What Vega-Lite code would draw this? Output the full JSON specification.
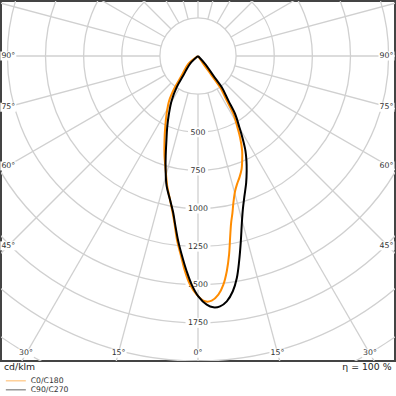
{
  "$schema": "https://vega.github.io/schema/vega-lite/v6.json",
  "width": 394,
  "height": 360,
  "autosize": {"type": "none"},
  "padding": {"left": 1, "top": 1, "right": 1, "bottom": 35},
  "background": "white",
  "config": {
    "font": "DejaVu Sans",
    "view": {"stroke": "#444444", "strokeWidth": 2},
    "axis": {"disable": true}
  },
  "datasets": {
    "spokes": [
      {"angle": 0, "x": 0, "y": 250, "x2": 0, "y2": 3000},
      {"angle": 15, "x": 64.7, "y": 241.5, "x2": 776.5, "y2": 2897.8},
      {"angle": 30, "x": 125, "y": 216.5, "x2": 1500, "y2": 2598.1},
      {"angle": 45, "x": 176.8, "y": 176.8, "x2": 2121.3, "y2": 2121.3},
      {"angle": 60, "x": 216.5, "y": 125, "x2": 2598.1, "y2": 1500},
      {"angle": 75, "x": 241.5, "y": 64.7, "x2": 2897.8, "y2": 776.5},
      {"angle": 90, "x": 250, "y": 0, "x2": 3000, "y2": 0},
      {"angle": 105, "x": 241.5, "y": -64.7, "x2": 2897.8, "y2": -776.5},
      {"angle": 120, "x": 216.5, "y": -125, "x2": 2598.1, "y2": -1500},
      {"angle": 135, "x": 176.8, "y": -176.8, "x2": 2121.3, "y2": -2121.3},
      {"angle": 150, "x": 125, "y": -216.5, "x2": 1500, "y2": -2598.1},
      {"angle": 165, "x": 64.7, "y": -241.5, "x2": 776.5, "y2": -2897.8},
      {"angle": 180, "x": 0, "y": -250, "x2": 0, "y2": -3000},
      {"angle": 195, "x": -64.7, "y": -241.5, "x2": -776.5, "y2": -2897.8},
      {"angle": 210, "x": -125, "y": -216.5, "x2": -1500, "y2": -2598.1},
      {"angle": 225, "x": -176.8, "y": -176.8, "x2": -2121.3, "y2": -2121.3},
      {"angle": 240, "x": -216.5, "y": -125, "x2": -2598.1, "y2": -1500},
      {"angle": 255, "x": -241.5, "y": -64.7, "x2": -2897.8, "y2": -776.5},
      {"angle": 270, "x": -250, "y": 0, "x2": -3000, "y2": 0},
      {"angle": 285, "x": -241.5, "y": 64.7, "x2": -2897.8, "y2": 776.5},
      {"angle": 300, "x": -216.5, "y": 125, "x2": -2598.1, "y2": 1500},
      {"angle": 315, "x": -176.8, "y": 176.8, "x2": -2121.3, "y2": 2121.3},
      {"angle": 330, "x": -125, "y": 216.5, "x2": -1500, "y2": 2598.1},
      {"angle": 345, "x": -64.7, "y": 241.5, "x2": -776.5, "y2": 2897.8}
    ],
    "rings": [
      {"r": 250}, {"r": 500}, {"r": 750}, {"r": 1000}, {"r": 1250},
      {"r": 1500}, {"r": 1750}, {"r": 2000}, {"r": 2250}, {"r": 2500}
    ],
    "angleLabels": [
      {"label": "90°", "x": -1244, "y": 0},
      {"label": "75°", "x": -1244, "y": 336},
      {"label": "60°", "x": -1244, "y": 721},
      {"label": "45°", "x": -1244, "y": 1245},
      {"label": "90°", "x": 1236, "y": 0},
      {"label": "75°", "x": 1236, "y": 336},
      {"label": "60°", "x": 1236, "y": 721},
      {"label": "45°", "x": 1236, "y": 1245},
      {"label": "30°", "x": -1128, "y": 1949},
      {"label": "15°", "x": -521, "y": 1949},
      {"label": "0°", "x": 0, "y": 1949},
      {"label": "15°", "x": 521, "y": 1949},
      {"label": "30°", "x": 1128, "y": 1949}
    ],
    "notes": [
      {"left": "cd/klm", "right": "η = 100 %"}
    ],
    "curves": [
      {"plane": "C0/C180", "i": 0, "x": 0, "y": 0},
      {"plane": "C0/C180", "i": 1, "x": -63.8, "y": 51.3},
      {"plane": "C0/C180", "i": 2, "x": -107.2, "y": 128.3},
      {"plane": "C0/C180", "i": 3, "x": -151.3, "y": 205.3},
      {"plane": "C0/C180", "i": 4, "x": -188.8, "y": 292.8},
      {"plane": "C0/C180", "i": 5, "x": -205.9, "y": 380.3},
      {"plane": "C0/C180", "i": 6, "x": -215.1, "y": 468.4},
      {"plane": "C0/C180", "i": 7, "x": -219.7, "y": 555.9},
      {"plane": "C0/C180", "i": 8, "x": -219.7, "y": 654.6},
      {"plane": "C0/C180", "i": 9, "x": -210.5, "y": 764.5},
      {"plane": "C0/C180", "i": 10, "x": -202.0, "y": 852.0},
      {"plane": "C0/C180", "i": 11, "x": -184.2, "y": 939.5},
      {"plane": "C0/C180", "i": 12, "x": -166.4, "y": 1027.6},
      {"plane": "C0/C180", "i": 13, "x": -154.6, "y": 1095.4},
      {"plane": "C0/C180", "i": 14, "x": -136.2, "y": 1213.8},
      {"plane": "C0/C180", "i": 15, "x": -113.8, "y": 1301.3},
      {"plane": "C0/C180", "i": 16, "x": -85.5, "y": 1411.2},
      {"plane": "C0/C180", "i": 17, "x": -52.6, "y": 1498.7},
      {"plane": "C0/C180", "i": 18, "x": -8.6, "y": 1564.5},
      {"plane": "C0/C180", "i": 19, "x": 46.1, "y": 1608.6},
      {"plane": "C0/C180", "i": 20, "x": 90.1, "y": 1603.9},
      {"plane": "C0/C180", "i": 21, "x": 133.6, "y": 1564.5},
      {"plane": "C0/C180", "i": 22, "x": 166.4, "y": 1498.7},
      {"plane": "C0/C180", "i": 23, "x": 188.8, "y": 1411.2},
      {"plane": "C0/C180", "i": 24, "x": 203.9, "y": 1301.3},
      {"plane": "C0/C180", "i": 25, "x": 210.5, "y": 1192.1},
      {"plane": "C0/C180", "i": 26, "x": 217.1, "y": 1095.4},
      {"plane": "C0/C180", "i": 27, "x": 225.7, "y": 1029.6},
      {"plane": "C0/C180", "i": 28, "x": 232.2, "y": 961.8},
      {"plane": "C0/C180", "i": 29, "x": 243.4, "y": 884.9},
      {"plane": "C0/C180", "i": 30, "x": 256.6, "y": 838.8},
      {"plane": "C0/C180", "i": 31, "x": 273.0, "y": 792.8},
      {"plane": "C0/C180", "i": 32, "x": 286.2, "y": 740.1},
      {"plane": "C0/C180", "i": 33, "x": 289.5, "y": 687.5},
      {"plane": "C0/C180", "i": 34, "x": 289.5, "y": 621.7},
      {"plane": "C0/C180", "i": 35, "x": 276.3, "y": 536.2},
      {"plane": "C0/C180", "i": 36, "x": 258.6, "y": 468.4},
      {"plane": "C0/C180", "i": 37, "x": 232.2, "y": 380.3},
      {"plane": "C0/C180", "i": 38, "x": 188.8, "y": 292.8},
      {"plane": "C0/C180", "i": 39, "x": 144.7, "y": 205.3},
      {"plane": "C0/C180", "i": 40, "x": 90.1, "y": 128.3},
      {"plane": "C0/C180", "i": 41, "x": 34.9, "y": 51.3},
      {"plane": "C0/C180", "i": 42, "x": 0, "y": 0},
      {"plane": "C90/C270", "i": 0, "x": 0, "y": 0},
      {"plane": "C90/C270", "i": 1, "x": -52.6, "y": 51.3},
      {"plane": "C90/C270", "i": 2, "x": -96.7, "y": 128.3},
      {"plane": "C90/C270", "i": 3, "x": -140.1, "y": 205.3},
      {"plane": "C90/C270", "i": 4, "x": -173.0, "y": 292.8},
      {"plane": "C90/C270", "i": 5, "x": -190.8, "y": 380.3},
      {"plane": "C90/C270", "i": 6, "x": -202.0, "y": 468.4},
      {"plane": "C90/C270", "i": 7, "x": -207.2, "y": 555.9},
      {"plane": "C90/C270", "i": 8, "x": -211.8, "y": 654.6},
      {"plane": "C90/C270", "i": 9, "x": -212.5, "y": 740.1},
      {"plane": "C90/C270", "i": 10, "x": -205.9, "y": 852.0},
      {"plane": "C90/C270", "i": 11, "x": -184.2, "y": 939.5},
      {"plane": "C90/C270", "i": 12, "x": -162.5, "y": 1027.6},
      {"plane": "C90/C270", "i": 13, "x": -151.3, "y": 1095.4},
      {"plane": "C90/C270", "i": 14, "x": -129.6, "y": 1213.8},
      {"plane": "C90/C270", "i": 15, "x": -107.2, "y": 1301.3},
      {"plane": "C90/C270", "i": 16, "x": -74.3, "y": 1411.2},
      {"plane": "C90/C270", "i": 17, "x": -41.4, "y": 1498.7},
      {"plane": "C90/C270", "i": 18, "x": 2.0, "y": 1575.7},
      {"plane": "C90/C270", "i": 19, "x": 57.2, "y": 1630.3},
      {"plane": "C90/C270", "i": 20, "x": 100.7, "y": 1648.0},
      {"plane": "C90/C270", "i": 21, "x": 144.7, "y": 1641.4},
      {"plane": "C90/C270", "i": 22, "x": 188.8, "y": 1608.6},
      {"plane": "C90/C270", "i": 23, "x": 228.3, "y": 1542.8},
      {"plane": "C90/C270", "i": 24, "x": 254.6, "y": 1455.3},
      {"plane": "C90/C270", "i": 25, "x": 269.7, "y": 1345.4},
      {"plane": "C90/C270", "i": 26, "x": 280.9, "y": 1213.8},
      {"plane": "C90/C270", "i": 27, "x": 287.5, "y": 1095.4},
      {"plane": "C90/C270", "i": 28, "x": 294.1, "y": 1005.3},
      {"plane": "C90/C270", "i": 29, "x": 304.6, "y": 917.8},
      {"plane": "C90/C270", "i": 30, "x": 315.8, "y": 832.2},
      {"plane": "C90/C270", "i": 31, "x": 319.1, "y": 753.3},
      {"plane": "C90/C270", "i": 32, "x": 317.8, "y": 687.5},
      {"plane": "C90/C270", "i": 33, "x": 311.2, "y": 621.7},
      {"plane": "C90/C270", "i": 34, "x": 291.4, "y": 536.2},
      {"plane": "C90/C270", "i": 35, "x": 271.7, "y": 468.4},
      {"plane": "C90/C270", "i": 36, "x": 243.4, "y": 380.3},
      {"plane": "C90/C270", "i": 37, "x": 199.3, "y": 292.8},
      {"plane": "C90/C270", "i": 38, "x": 155.9, "y": 205.3},
      {"plane": "C90/C270", "i": 39, "x": 100.7, "y": 128.3},
      {"plane": "C90/C270", "i": 40, "x": 46.1, "y": 51.3},
      {"plane": "C90/C270", "i": 41, "x": 0, "y": 0}
    ]
  },
  "layer": [
    {
      "data": {"name": "spokes"},
      "mark": {"type": "rule", "clip": true, "stroke": "#d0d0d0", "strokeWidth": 1.3},
      "encoding": {
        "x": {"field": "x", "type": "quantitative", "scale": {"domain": [-1291.8, 1291.8], "nice": false, "zero": false}},
        "y": {"field": "y", "type": "quantitative", "scale": {"domain": [-360.7, 2000], "reverse": true, "nice": false, "zero": false}},
        "x2": {"field": "x2"},
        "y2": {"field": "y2"}
      }
    },
    {
      "data": {"name": "rings"},
      "mark": {"type": "point", "shape": "circle", "filled": false, "clip": true, "stroke": "#d0d0d0", "strokeWidth": 1.3, "opacity": 1},
      "encoding": {
        "x": {"datum": 0, "type": "quantitative"},
        "y": {"datum": 0, "type": "quantitative"},
        "size": {"field": "r", "type": "quantitative", "scale": {"type": "pow", "exponent": 2, "domain": [0, 3000], "range": [0, 837225]}, "legend": null}
      }
    },
    {
      "data": {"name": "rings"},
      "transform": [{"filter": "datum.r >= 500 && datum.r <= 1750"}],
      "mark": {"type": "point", "filled": true, "fill": "white", "stroke": null, "opacity": 1, "size": 400},
      "encoding": {
        "x": {"datum": 0, "type": "quantitative"},
        "y": {"field": "r", "type": "quantitative"},
        "shape": {"condition": {"test": "datum.r < 1000", "value": "M-1,-0.5H1V0.5H-1Z"}, "value": "M-1.25,-0.5H1.25V0.5H-1.25Z"}
      }
    },
    {
      "data": {"name": "rings"},
      "transform": [{"filter": "datum.r >= 500 && datum.r <= 1750"}],
      "mark": {"type": "text", "fontSize": 7.8, "fill": "#333333", "align": "center", "baseline": "middle", "dy": 0.5},
      "encoding": {
        "x": {"datum": 0, "type": "quantitative"},
        "y": {"field": "r", "type": "quantitative"},
        "text": {"field": "r", "type": "quantitative", "format": "d"}
      }
    },
    {
      "data": {"name": "angleLabels"},
      "mark": {"type": "point", "filled": true, "fill": "white", "stroke": null, "opacity": 1, "size": 100, "shape": "M-1.6,-0.9H1.6V0.9H-1.6Z"},
      "encoding": {
        "x": {"field": "x", "type": "quantitative"},
        "y": {"field": "y", "type": "quantitative"}
      }
    },
    {
      "data": {"name": "angleLabels"},
      "mark": {"type": "text", "fontSize": 7.8, "fill": "#333333", "align": "center", "baseline": "middle"},
      "encoding": {
        "x": {"field": "x", "type": "quantitative"},
        "y": {"field": "y", "type": "quantitative"},
        "text": {"field": "label"}
      }
    },
    {
      "data": {"name": "curves"},
      "mark": {"type": "line", "interpolate": "catmull-rom", "strokeWidth": 2},
      "encoding": {
        "x": {"field": "x", "type": "quantitative"},
        "y": {"field": "y", "type": "quantitative"},
        "order": {"field": "i", "type": "quantitative"},
        "color": {
          "field": "plane",
          "type": "nominal",
          "scale": {"domain": ["C0/C180", "C90/C270"], "range": ["#ff8c00", "#000000"]},
          "legend": {
            "orient": "none",
            "legendX": 1,
            "legendY": 376,
            "title": null,
            "padding": 0,
            "symbolType": "M0,0H10",
            "symbolSize": 16,
            "symbolStrokeWidth": 1,
            "symbolOpacity": 0.6,
            "labelFontSize": 7.7,
            "labelColor": "#333333",
            "labelOffset": 21,
            "rowPadding": 0
          }
        }
      }
    },
    {
      "data": {"name": "notes"},
      "mark": {"type": "text", "fontSize": 9.3, "fill": "#222222", "align": "left", "baseline": "middle", "dx": 3},
      "encoding": {
        "x": {"datum": -1291.8, "type": "quantitative"},
        "y": {"datum": 2039, "type": "quantitative"},
        "text": {"field": "left"}
      }
    },
    {
      "data": {"name": "notes"},
      "mark": {"type": "text", "fontSize": 9.3, "fill": "#222222", "align": "right", "baseline": "middle", "dx": -3.5},
      "encoding": {
        "x": {"datum": 1291.8, "type": "quantitative"},
        "y": {"datum": 2039, "type": "quantitative"},
        "text": {"field": "right"}
      }
    }
  ]
}
